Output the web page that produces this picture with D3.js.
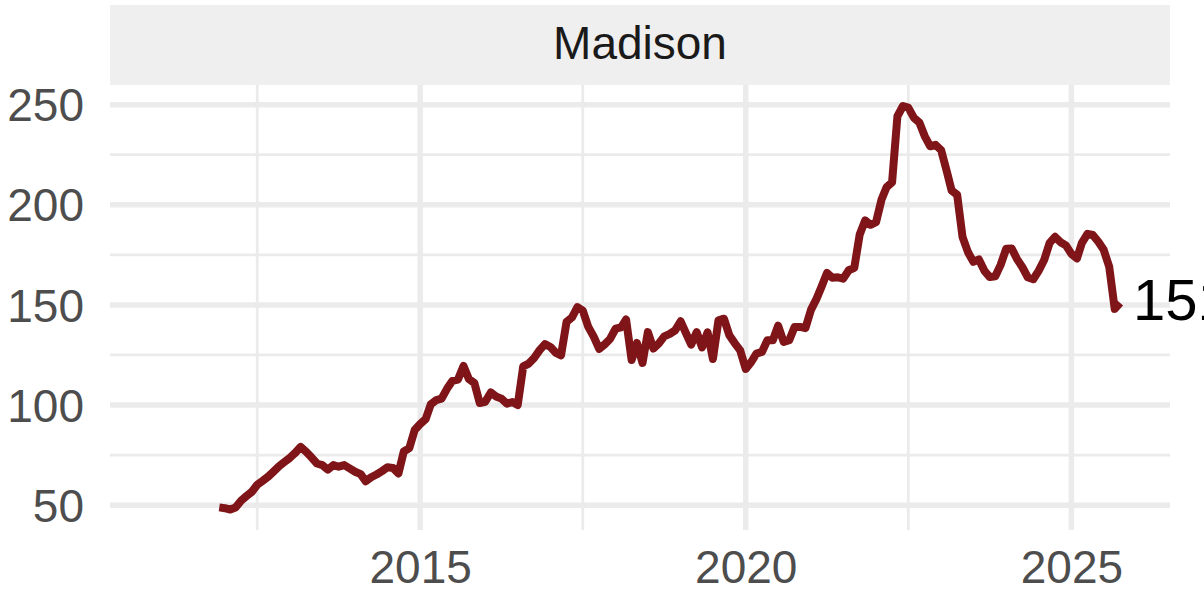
<!DOCTYPE html>
<meta charset="utf-8">
<style>
    body { margin: 0; background: #fff; }
    text { font-family: "Liberation Sans", Arial, sans-serif; }
    .grid line { stroke: #ebebeb; }
</style>
<svg width="1204" height="592"></svg>
<script src="https://d3js.org/d3.v7.min.js"></script>
<script>

    // monthly values, first month Dec 2011
    var panelTitle = "Madison";
    var firstMonth = new Date(2011, 11, 1);
    var values = [
        48.9, 48.5, 47.8, 48.8, 52.2, 54.5, 56.7, 60.2, 62.2, 64.3, 66.8, 69.5,
        71.6, 73.7, 76.3, 79.1, 76.7, 73.9, 70.8, 70.0, 67.8, 70.0, 69.2, 70.0,
        68.4, 66.7, 65.5, 61.9, 63.9, 65.3, 67.0, 68.9, 68.6, 65.8, 76.8, 78.5,
        87.5, 90.5, 93.0, 100.3, 102.5, 103.2, 108.2, 112.1, 112.7, 119.5, 113.0, 111.0,
        101.0, 101.6, 106.3, 104.3, 103.2, 100.7, 101.5, 100.0, 119.3, 120.7, 123.5, 127.4,
        130.4, 129.0, 126.0, 124.8, 141.5, 143.7, 148.9, 147.2, 139.0, 134.0, 128.0, 130.3,
        133.0, 138.1, 138.8, 142.7, 122.5, 131.0, 121.0, 136.4, 128.2, 130.8, 134.3, 135.5,
        137.3, 141.8, 135.6, 130.2, 136.4, 128.8, 136.3, 123.0, 142.3, 143.1, 134.8, 130.8,
        127.3, 118.0, 121.5, 125.7, 126.5, 132.3, 132.3, 139.6, 131.5, 132.4, 139.0, 139.0,
        138.4, 147.5, 153.0, 159.0, 166.0, 163.6, 163.8, 163.1, 167.3, 168.5, 185.0, 192.2,
        190.0, 191.3, 202.6, 208.7, 211.2, 244.2, 249.3, 248.5, 243.5, 241.1, 234.3, 229.2,
        229.9, 227.3, 217.0, 207.1, 205.0, 184.0, 176.3, 171.5, 172.7, 167.0, 163.9, 164.3,
        170.0, 178.0, 178.2, 173.0, 168.8, 163.8, 162.8, 167.0, 172.4, 181.0, 184.0, 181.3,
        179.7, 175.5, 173.2, 181.0, 185.5, 184.9, 181.5, 177.5, 169.0, 148.0, 151.0
    ];
    var yTicks = [50, 100, 150, 200, 250];
    var yMinor = [75, 125, 175, 225];
    var xTicks = [2015, 2020, 2025];
    var xMinor = [2012.5, 2017.5, 2022.5];

    var svg = d3.select("svg");

    var pLeft = 110, pRight = 1170, pTop = 85, pBottom = 530;

    var data = values.map(function(v, i) {
        return { date: d3.timeMonth.offset(firstMonth, i), value: v };
    });

    var x = d3.scaleTime()
        .domain([new Date(2010, 2, 28), new Date(2026, 6, 8)])
        .range([pLeft, pRight]);

    var y = d3.scaleLinear()
        .domain([37.6, 259.8])
        .range([pBottom, pTop]);

    function yearDate(yr) {
        var whole = Math.floor(yr);
        return d3.timeMonth.offset(new Date(whole, 0, 1), Math.round((yr - whole) * 12));
    }

    // strip
    svg.append("rect")
        .attr("x", pLeft)
        .attr("y", 5)
        .attr("width", pRight - pLeft)
        .attr("height", pTop - 5)
        .attr("fill", "#efefef");

    svg.append("text")
        .attr("x", (pLeft + pRight) / 2)
        .attr("y", 59)
        .attr("text-anchor", "middle")
        .attr("font-size", 46)
        .attr("fill", "#1a1a1a")
        .text(panelTitle);

    var grid = svg.append("g").attr("class", "grid");

    grid.selectAll(".ymin")
        .data(yMinor)
        .enter().append("line")
        .attr("x1", pLeft).attr("x2", pRight)
        .attr("y1", function(d) { return y(d); })
        .attr("y2", function(d) { return y(d); })
        .attr("stroke-width", 2.8);

    grid.selectAll(".xmin")
        .data(xMinor)
        .enter().append("line")
        .attr("y1", pTop).attr("y2", pBottom)
        .attr("x1", function(d) { return x(yearDate(d)); })
        .attr("x2", function(d) { return x(yearDate(d)); })
        .attr("stroke-width", 2.8);

    grid.selectAll(".ymaj")
        .data(yTicks)
        .enter().append("line")
        .attr("x1", pLeft).attr("x2", pRight)
        .attr("y1", function(d) { return y(d); })
        .attr("y2", function(d) { return y(d); })
        .attr("stroke-width", 5.5);

    grid.selectAll(".xmaj")
        .data(xTicks)
        .enter().append("line")
        .attr("y1", pTop).attr("y2", pBottom)
        .attr("x1", function(d) { return x(new Date(d, 0, 1)); })
        .attr("x2", function(d) { return x(new Date(d, 0, 1)); })
        .attr("stroke-width", 5.5);

    // axes (no ticks, no domain, like theme_minimal)
    var yAxis = svg.append("g")
        .attr("transform", "translate(" + pLeft + ",0)")
        .call(d3.axisLeft(y).tickValues(yTicks).tickSize(0).tickPadding(26));
    yAxis.select(".domain").remove();
    yAxis.selectAll("text")
        .attr("font-size", 46)
        .attr("font-family", "Liberation Sans, Arial, sans-serif")
        .attr("fill", "#4d4d4d")
        .attr("dy", "0.35em");

    var xAxis = svg.append("g")
        .attr("transform", "translate(0," + pBottom + ")")
        .call(d3.axisBottom(x)
            .tickValues(xTicks.map(function(d) { return new Date(d, 0, 1); }))
            .tickFormat(d3.timeFormat("%Y"))
            .tickSize(0).tickPadding(20));
    xAxis.select(".domain").remove();
    xAxis.selectAll("text")
        .attr("font-size", 46)
        .attr("font-family", "Liberation Sans, Arial, sans-serif")
        .attr("fill", "#4d4d4d")
        .attr("dy", "0.72em");

    var line = d3.line()
        .x(function(d) { return x(d.date); })
        .y(function(d) { return y(d.value); });

    svg.append("path")
        .datum(data)
        .attr("fill", "none")
        .attr("stroke", "#7f1518")
        .attr("stroke-width", 8)
        .attr("stroke-linejoin", "round")
        .attr("d", line);

    var last = data[data.length - 1];
    svg.append("text")
        .attr("x", x(last.date) + 13)
        .attr("y", y(last.value))
        .attr("dy", "0.29em")
        .attr("font-size", 58)
        .attr("fill", "#000")
        .text(d3.format(".0f")(last.value));

</script>
